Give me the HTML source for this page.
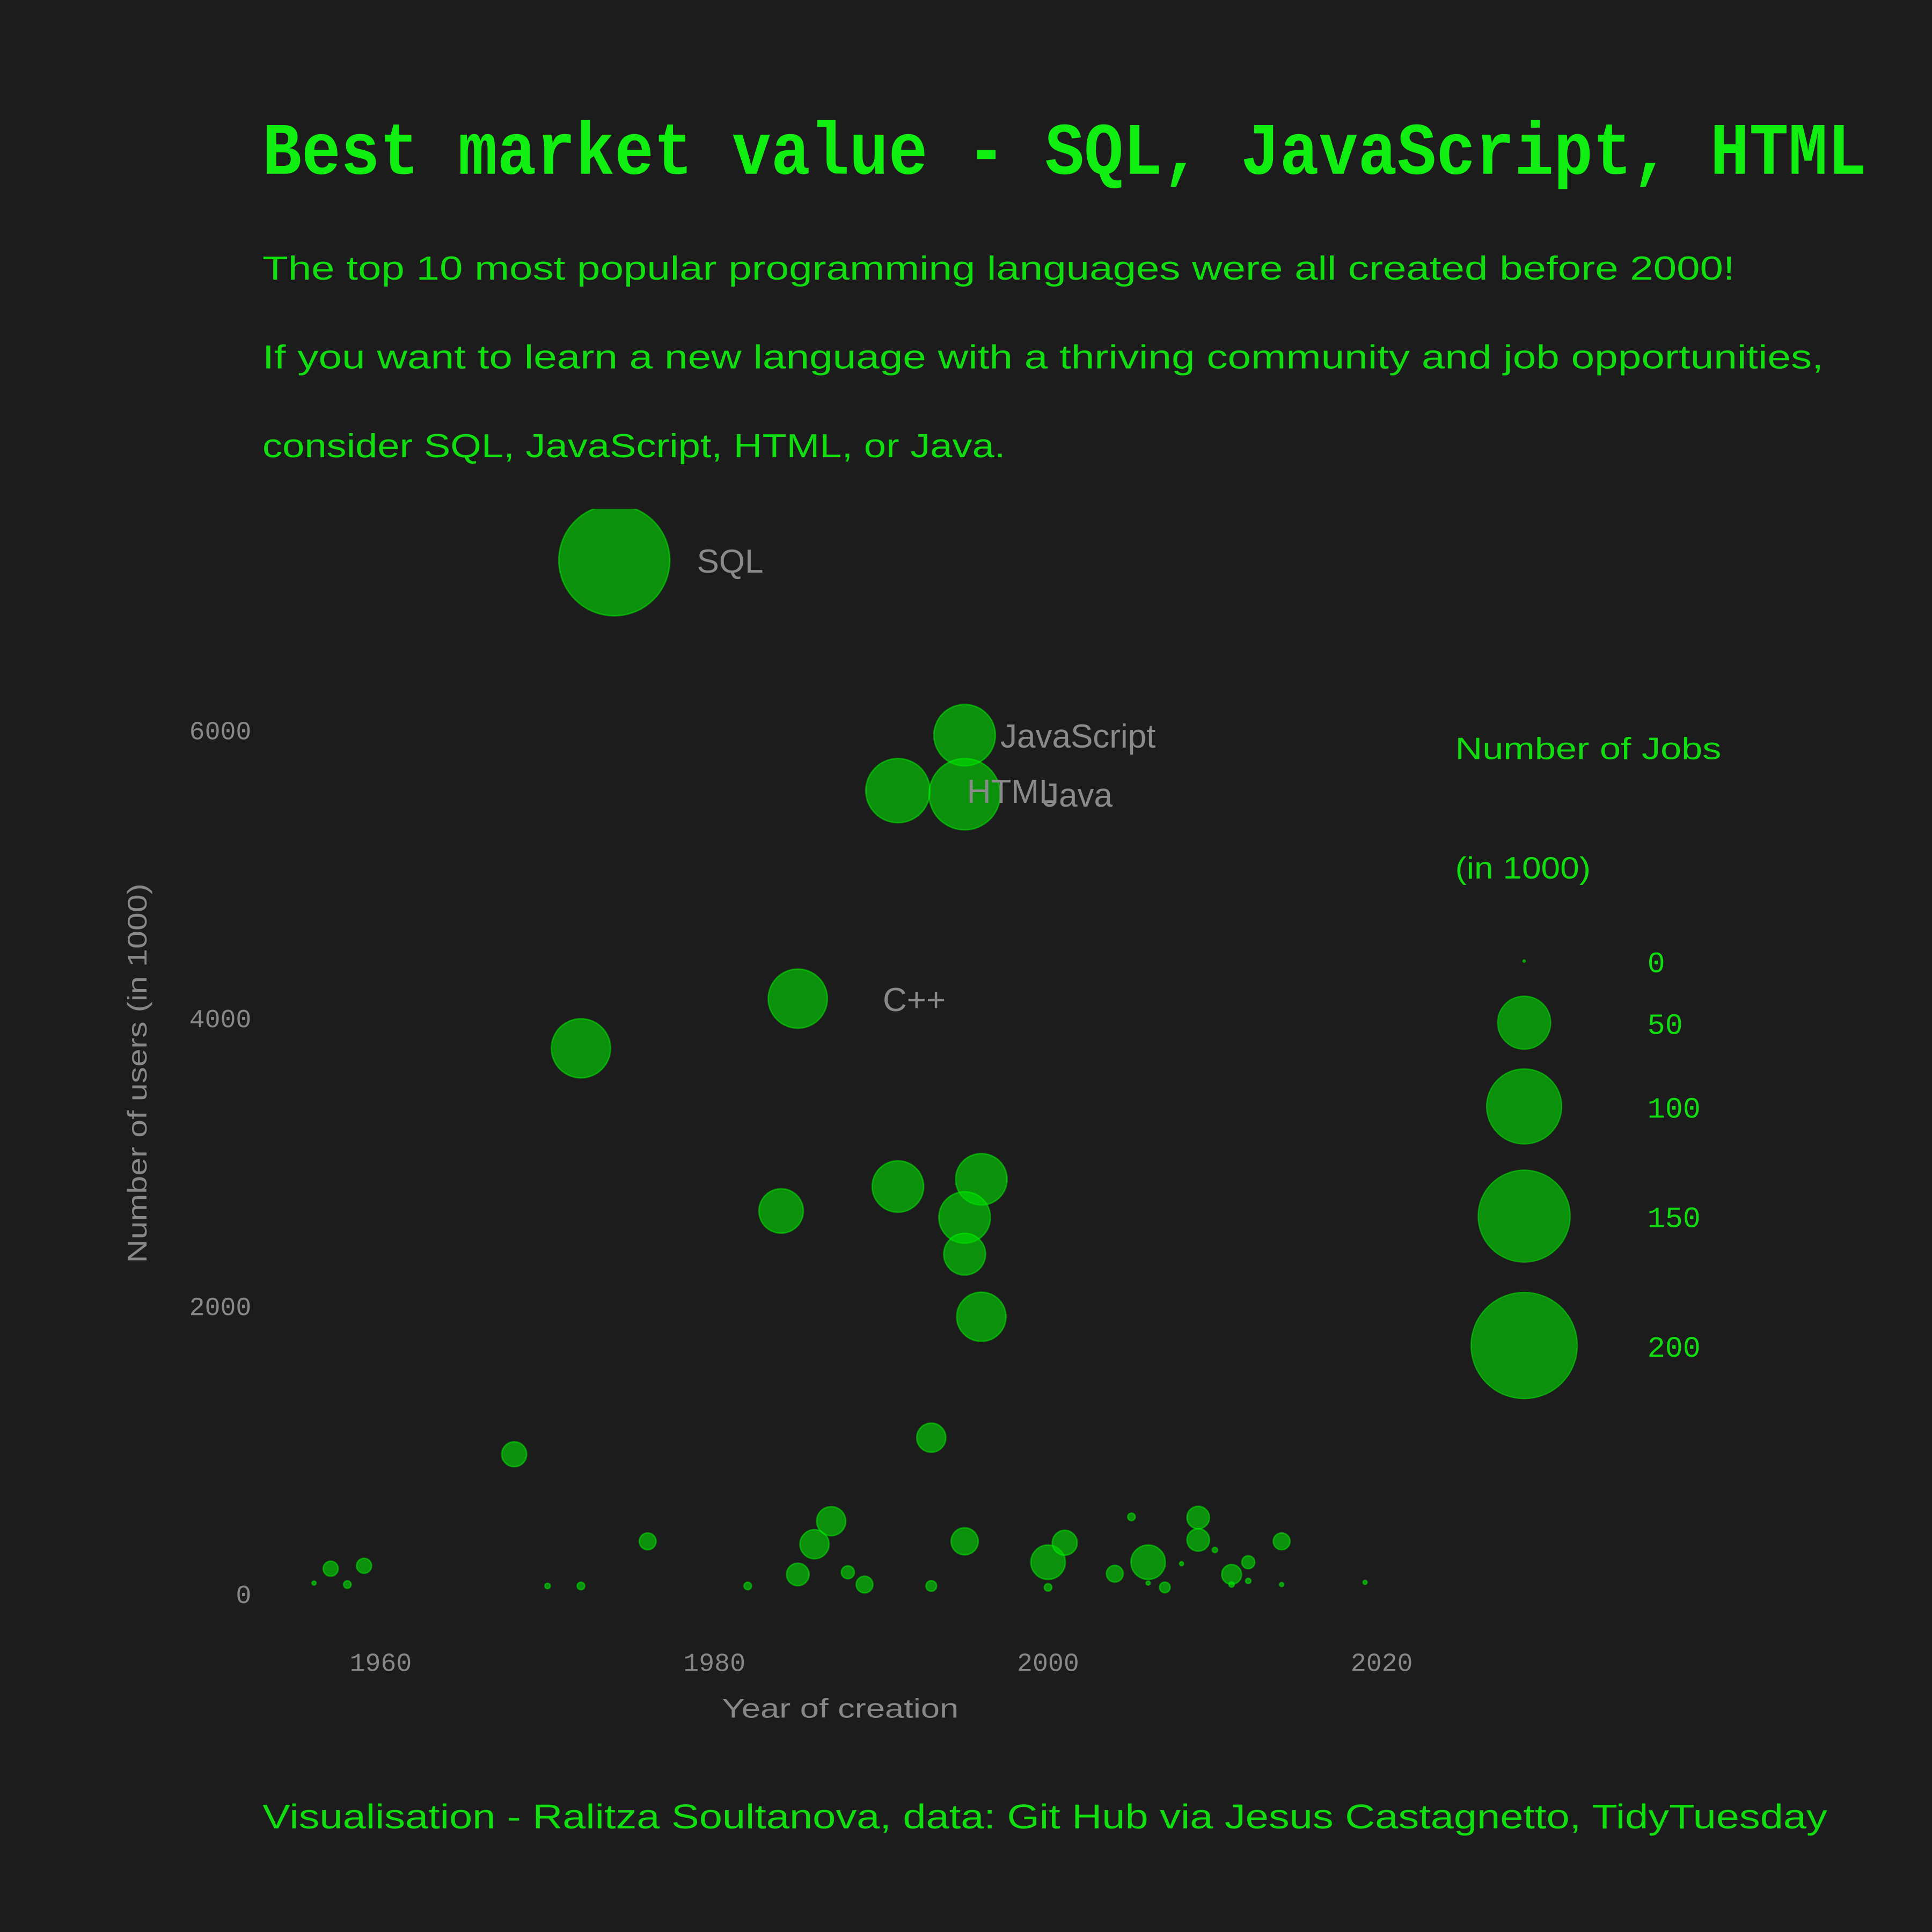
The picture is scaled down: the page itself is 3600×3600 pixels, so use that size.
<!DOCTYPE html>
<html><head><meta charset="utf-8">
<style>
html,body{margin:0;padding:0;background:#1c1c1c;}
svg{display:block;}
</style></head>
<body>
<svg id="chart" width="3600" height="3600" viewBox="0 0 1568 1568" xmlns="http://www.w3.org/2000/svg">
<defs><clipPath id="plotclip"><rect x="150" y="413" width="1050" height="950"/></clipPath></defs>
<rect x="0" y="0" width="1568" height="1568" fill="#1c1c1c"/>
<text x="213" y="141" font-family="Liberation Mono, monospace" font-weight="bold" font-size="60" fill="#11ee11" textLength="1302" lengthAdjust="spacingAndGlyphs">Best market value - SQL, JavaScript, HTML</text>
<g font-family="Liberation Sans, sans-serif" font-size="27" fill="#11dd11">
<text x="213" y="227" textLength="1195" lengthAdjust="spacingAndGlyphs">The top 10 most popular programming languages were all created before 2000!</text>
<text x="213" y="299" textLength="1267" lengthAdjust="spacingAndGlyphs">If you want to learn a new language with a thriving community and job opportunities,</text>
<text x="213" y="371" textLength="603" lengthAdjust="spacingAndGlyphs">consider SQL, JavaScript, HTML, or Java.</text>
</g>
<g id="yticks" font-family="Liberation Mono, monospace" font-size="21" fill="#888" text-anchor="end" font-weight="300"></g>
<g id="xticks" font-family="Liberation Mono, monospace" font-size="21" fill="#888" text-anchor="middle" font-weight="300"></g>
<text x="586" y="1394" font-family="Liberation Sans, sans-serif" font-size="22" fill="#888" textLength="192" lengthAdjust="spacingAndGlyphs">Year of creation</text>
<text transform="translate(119,1025) rotate(-90)" font-family="Liberation Sans, sans-serif" font-size="22" fill="#888" textLength="308" lengthAdjust="spacingAndGlyphs">Number of users (in 1000)</text>
<g id="bubbles" clip-path="url(#plotclip)"></g>
<g id="labels" font-family="Liberation Sans, sans-serif" font-size="27" fill="#8a8a8a"></g>
<g id="legend" font-family="Liberation Sans, sans-serif" fill="#11dd11">
<text x="1181" y="616" font-size="25" textLength="216" lengthAdjust="spacingAndGlyphs">Number of Jobs</text>
<text x="1181" y="713" font-size="25" textLength="110" lengthAdjust="spacingAndGlyphs">(in 1000)</text>
</g>
<text x="213" y="1484" font-family="Liberation Sans, sans-serif" font-size="28" fill="#11dd11" textLength="1270" lengthAdjust="spacingAndGlyphs">Visualisation - Ralitza Soultanova, data: Git Hub via Jesus Castagnetto, TidyTuesday</text>
</svg>
<script>
const years = [1974,1995,1991,1995,1985,1972,1984,1991,1996,1995,1995,1996,1993,1968,1957,1959,1958,1956,1970,1972,1976,1982,1985,1986,1987,1988,1989,1993,1995,2000,2000,2001,2004,2005,2006,2006,2007,2008,2009,2009,2010,2011,2011,2012,2012,2014,2014,2019];
const users = [7175,5960,5575,5550,4130,3785,2655,2825,2875,2610,2355,1920,1080,965,170,190,60,70,50,50,360,50,130,340,500,145,60,50,360,215,40,350,135,530,215,70,40,205,525,370,300,130,60,215,85,360,60,75];
const jobs = [218,67,73,90,62,62,35,47,47,47,31,43,15,11,4,4,1,0.3,0.5,1,5,1,9,15,15,3,5,2,13,21,1,11,5,1,21,0.3,2,0.3,9,9,0.5,7,0.5,3,0.5,5,0.3,0.3];
const names = ["SQL","JavaScript","HTML","Java","C++"];
const labelYears = [1974,1995,1991,1995,1985];
const labelUsers = [7175,5960,5575,5550,4130];
const xTicks = [1960,1980,2000,2020];
const yTicks = [0,2000,4000,6000];
const legendValues = [0,50,100,150,200];

const NS = "http://www.w3.org/2000/svg";
const xS = y => 309 + (y - 1960) * 13.54;
const yS = u => 1293 - u * 0.11683;
const rS = j => Math.max(1, 3.05 * Math.sqrt(j));

const yt = document.getElementById('yticks');
yTicks.forEach(v => {
  const t = document.createElementNS(NS, 'text');
  
  
  t.setAttribute('x', 204); t.setAttribute('y', yS(v) + 8);
  t.textContent = v; yt.appendChild(t);
});
const xt = document.getElementById('xticks');
xTicks.forEach(v => {
  const t = document.createElementNS(NS, 'text');
  
  
  t.setAttribute('x', xS(v)); t.setAttribute('y', 1356);
  t.textContent = v; xt.appendChild(t);
});
const bg = document.getElementById('bubbles');
years.forEach((yr, i) => {
  const c = document.createElementNS(NS, 'circle');
  
  
  c.setAttribute('cx', xS(yr)); c.setAttribute('cy', yS(users[i])); c.setAttribute('r', rS(jobs[i]));
  c.setAttribute('fill', '#00e000'); c.setAttribute('fill-opacity', '0.6');
  c.setAttribute('stroke', '#00ff00'); c.setAttribute('stroke-opacity', '0.45'); c.setAttribute('stroke-width', '1.2');
  bg.appendChild(c);
});
const lg = document.getElementById('labels');
const offs = [67, 29, 56, 63, 69];
names.forEach((n, i) => {
  const t = document.createElementNS(NS, 'text');
  
  
  t.setAttribute('x', xS(labelYears[i]) + offs[i]); t.setAttribute('y', yS(labelUsers[i]) + 10);
  t.textContent = n; lg.appendChild(t);
});
const leg = document.getElementById('legend');
const legY = [780, 830, 898, 987, 1092];
legendValues.forEach((v, i) => {
  const c = document.createElementNS(NS, 'circle');
  
  
  c.setAttribute('cx', 1237); c.setAttribute('cy', legY[i]); c.setAttribute('r', v === 0 ? 1 : rS(v));
  c.setAttribute('fill', '#00e000'); c.setAttribute('fill-opacity', '0.6');
  c.setAttribute('stroke', '#00ff00'); c.setAttribute('stroke-opacity', '0.45');
  leg.appendChild(c);
  const t = document.createElementNS(NS, 'text');
  
  
  t.setAttribute('x', 1337); t.setAttribute('y', legY[i] + 9);
  t.setAttribute('font-size', '24'); t.setAttribute('font-family', 'Liberation Mono, monospace');
  t.textContent = v; leg.appendChild(t);
});
</script>
</body></html>
